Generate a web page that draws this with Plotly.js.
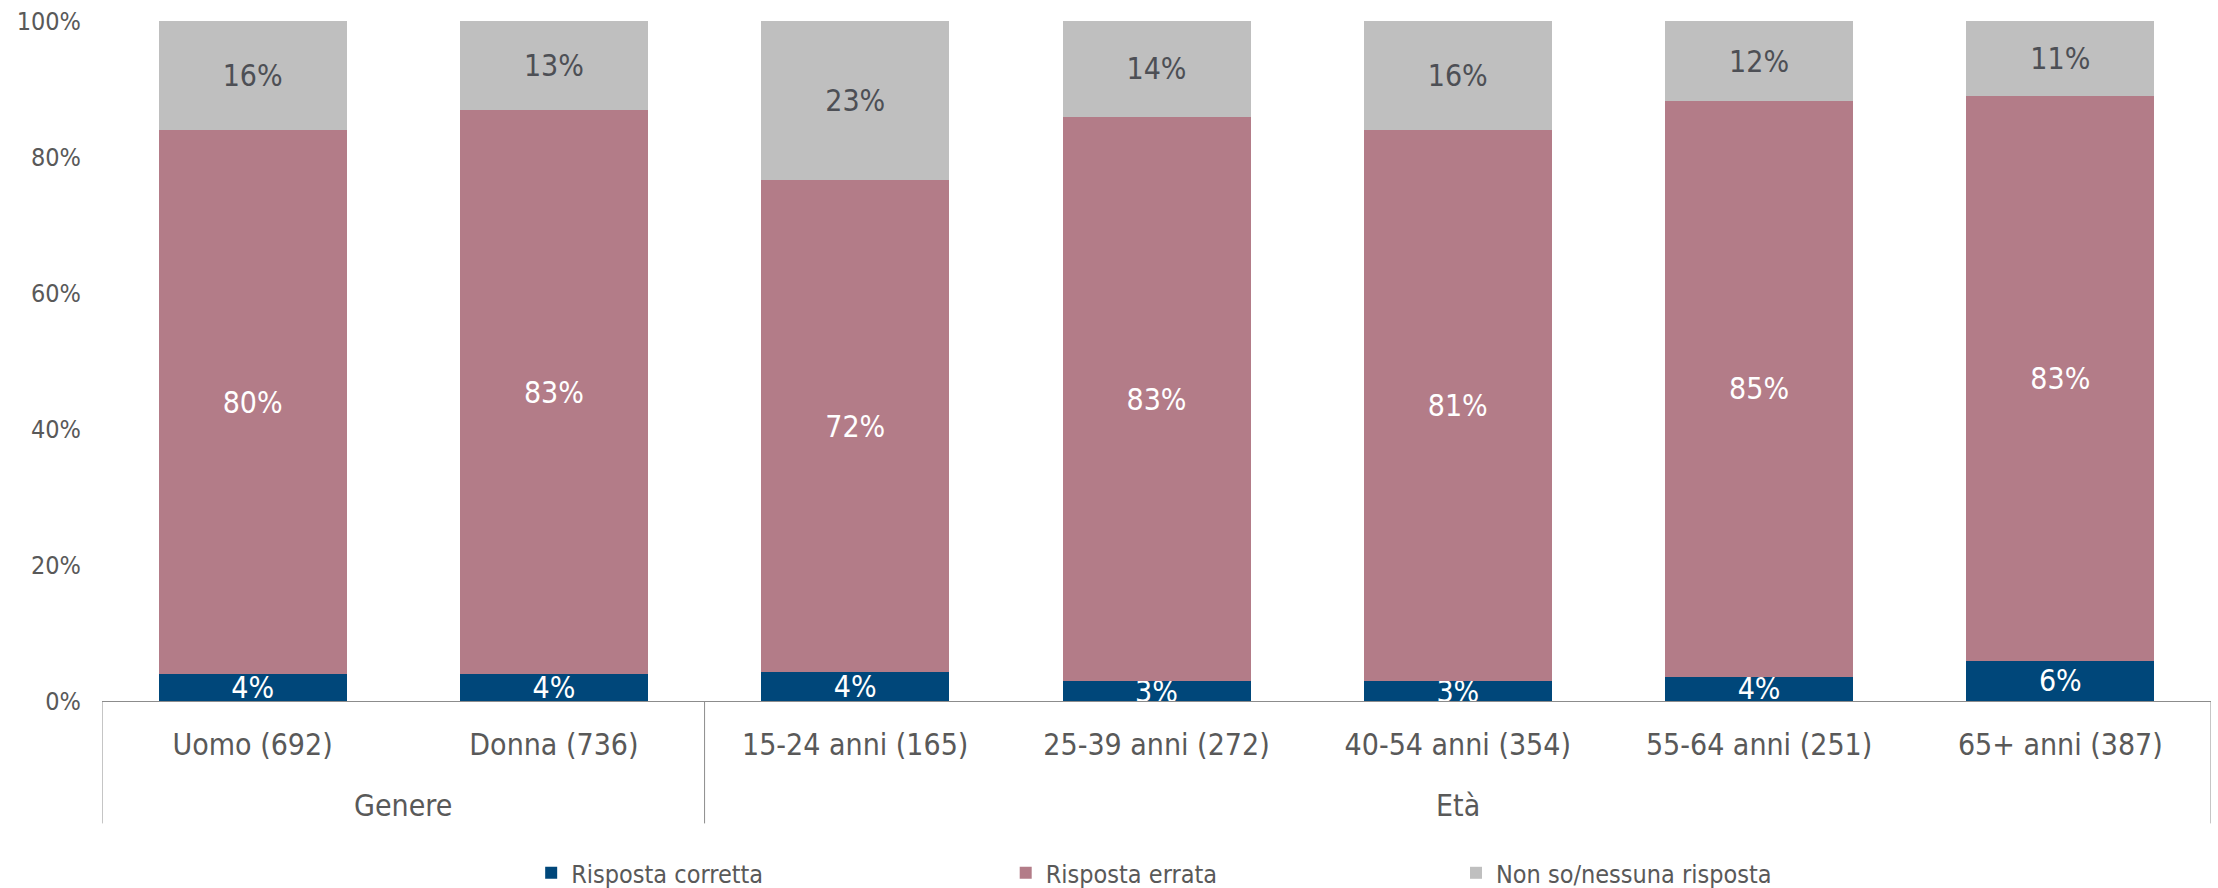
<!DOCTYPE html>
<html><head><meta charset="utf-8">
<script src="https://cdn.plot.ly/plotly-3.0.1.min.js"></script>
<style>html,body{margin:0;padding:0;background:#fff}</style>
</head><body><div id="chart" style="width:2218px;height:888px"></div>
<script>
const categories = ['Uomo (692)','Donna (736)','15-24 anni (165)','25-39 anni (272)','40-54 anni (354)','55-64 anni (251)','65+ anni (387)'];
const groups = ['Genere','Genere','Età','Età','Età','Età','Età'];
const rispostaCorretta = [0.039,0.039,0.042,0.029,0.029,0.036,0.059];
const rispostaErrata   = [0.801,0.830,0.724,0.830,0.811,0.846,0.831];
const nonSo            = [0.160,0.131,0.234,0.141,0.160,0.118,0.110];
const seriesNames = ['Risposta corretta','Risposta errata','Non so/nessuna risposta'];
const seriesValues = [rispostaCorretta, rispostaErrata, nonSo];
const seriesColors = ['#00477A','#B37C88','#BFBFBF'];
const textColors = ['#FFFFFF','#FFFFFF','#4D4F55'];
const yTickVals = [0,0.2,0.4,0.6,0.8,1];
const legendX = [0.2035,0.4285,0.642];

const FONT = '"DejaVu Sans Condensed","Liberation Sans Narrow","DejaVu Sans",sans-serif';
const GREY = '#595959';
const LINE = '#8C8C8C';

const legendIds = ['legend','legend2','legend3'];
const traces = seriesNames.map((name,i)=>({
  type:'bar', name:name, x:categories, y:seriesValues[i],
  marker:{color:seriesColors[i], line:{width:0}},
  texttemplate:'%{y:.0%}', textposition:'inside', insidetextanchor:'middle',
  constraintext:'none',
  textfont:{family:FONT, size:30, color:textColors[i]},
  hoverinfo:'skip', legend:legendIds[i]
}));

// group boundaries & labels
const shapes = [];
const annotations = [];
let start = 0;
shapes.push({type:'line', xref:'x', yref:'paper', x0:-0.5, x1:-0.5, y0:0, y1:-0.18, line:{color:LINE,width:1}});
for (let i=1;i<=groups.length;i++){
  if (i===groups.length || groups[i]!==groups[start]){
    const end = i-1;
    shapes.push({type:'line', xref:'x', yref:'paper', x0:end+0.5, x1:end+0.5, y0:0, y1:-0.18, line:{color:LINE,width:1}});
    annotations.push({xref:'x', yref:'paper', x:(start+end)/2, y:-0.154, yanchor:'middle', xanchor:'center',
      showarrow:false, text:groups[start], font:{family:FONT,size:30,color:GREY}});
    start = i;
  }
}

const layout = {
  width:2218, height:888,
  margin:{l:102, r:7, t:21, b:187, autoexpand:false},
  paper_bgcolor:'#fff', plot_bgcolor:'#fff',
  barmode:'stack', bargap:0.376,
  font:{family:FONT, color:GREY},
  xaxis:{type:'category', range:[-0.5,6.5], showline:true, linecolor:LINE, linewidth:1,
    ticks:'', showgrid:false, zeroline:false, ticklabelstandoff:17,
    tickfont:{family:FONT,size:30,color:GREY}},
  yaxis:{range:[0,1], tickvals:yTickVals, tickformat:'.0%', showgrid:false, zeroline:false,
    showline:false, ticks:'', ticklabelstandoff:20, tickfont:{family:FONT,size:25,color:GREY}},
  shapes:shapes, annotations:annotations,
  showlegend:true
};
legendIds.forEach((id,i)=>{
  layout[id] = {orientation:'h', x:legendX[i], xanchor:'left', xref:'paper', y:-0.253, yanchor:'middle', yref:'paper',
    font:{family:FONT,size:25,color:GREY}, bgcolor:'rgba(0,0,0,0)', itemwidth:30};
});

Plotly.newPlot('chart', traces, layout, {staticPlot:true, displayModeBar:false});
</script></body></html>
